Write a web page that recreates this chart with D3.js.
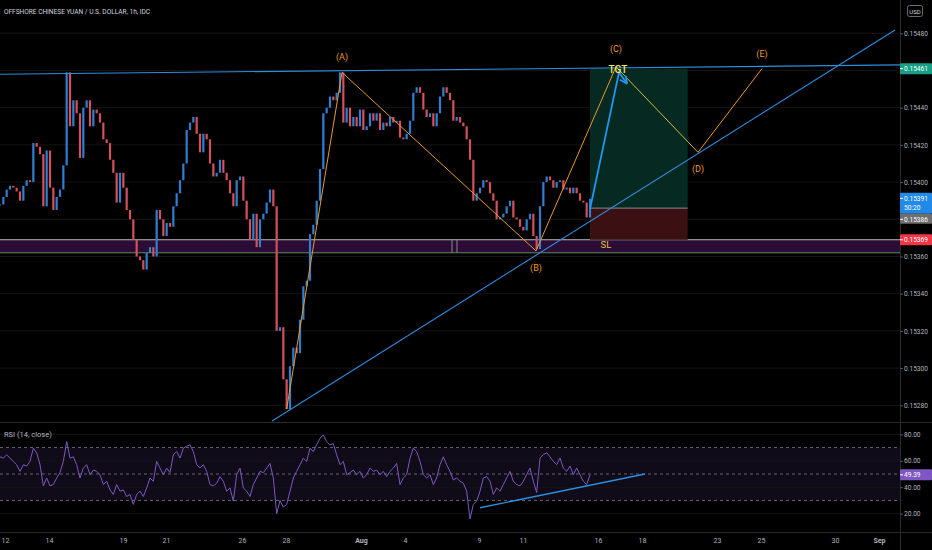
<!DOCTYPE html>
<html>
<head>
<meta charset="utf-8">
<script src="https://cdn.jsdelivr.net/npm/d3@7"></script>
<style>
  body { margin: 0; background: #000; }
  svg { display: block; }
</style>
</head>
<body>
<div id="chart"></div>
<script>
// USD/CNH 1h (one close every ~3.6 hours of trading)
var closes = [
  0.15388, 0.15392, 0.15396, 0.15398, 0.15397, 0.15395, 0.15390, 0.15398, 0.15401, 0.15400,
  0.15421, 0.15419, 0.15415, 0.15387, 0.15417, 0.15397, 0.15385, 0.15392, 0.15396, 0.15409,
  0.15459, 0.15430, 0.15444, 0.15437, 0.15413, 0.15440, 0.15444, 0.15430, 0.15439, 0.15437,
  0.15432, 0.15423, 0.15421, 0.15412, 0.15405, 0.15389, 0.15405, 0.15397, 0.15385, 0.15380,
  0.15369, 0.15360, 0.15358, 0.15353, 0.15362, 0.15365, 0.15360, 0.15385, 0.15380, 0.15371,
  0.15378, 0.15376, 0.15387, 0.15394, 0.15401, 0.15410, 0.15428, 0.15432, 0.15435, 0.15426,
  0.15416, 0.15426, 0.15423, 0.15410, 0.15403, 0.15405, 0.15412, 0.15405, 0.15401, 0.15394,
  0.15387, 0.15401, 0.15403, 0.15390, 0.15380, 0.15369, 0.15383, 0.15365, 0.15380, 0.15383,
  0.15389, 0.15396, 0.15387, 0.15320, 0.15322, 0.15294, 0.15278, 0.15301, 0.15311, 0.15308,
  0.15326, 0.15344, 0.15347, 0.15372, 0.15377, 0.15390, 0.15407, 0.15437, 0.15440, 0.15446,
  0.15444, 0.15448, 0.15459, 0.15432, 0.15440, 0.15430, 0.15435, 0.15430, 0.15439, 0.15428,
  0.15430, 0.15437, 0.15433, 0.15437, 0.15428, 0.15432, 0.15430, 0.15435, 0.15432, 0.15433,
  0.15424, 0.15423, 0.15426, 0.15433, 0.15448, 0.15451, 0.15448, 0.15439, 0.15435, 0.15437,
  0.15430, 0.15437, 0.15446, 0.15451, 0.15448, 0.15444, 0.15433, 0.15435, 0.15432, 0.15430,
  0.15423, 0.15412, 0.15390, 0.15394, 0.15397, 0.15401, 0.15400, 0.15394, 0.15390, 0.15380,
  0.15381, 0.15383, 0.15387, 0.15390, 0.15381, 0.15380, 0.15376, 0.15374, 0.15380, 0.15383,
  0.15371, 0.15364, 0.15387, 0.15400, 0.15403, 0.15401, 0.15397, 0.15400, 0.15401, 0.15396,
  0.15397, 0.15394, 0.15397, 0.15394, 0.15390, 0.15389, 0.15381, 0.15391
];
var rsi = [
  63, 62, 64.5, 62, 59.5, 57, 52, 57, 56, 59.5,
  69.5, 66, 57, 41, 47, 41, 42, 47, 51, 59.5,
  74.5, 62, 63, 57, 47, 54.5, 57, 49.5, 53, 52,
  49.5, 42, 44.5, 38, 34.5, 42, 37, 38, 33, 34.5,
  27, 34.5, 37, 33, 39.5, 47, 44.5, 59.5, 54.5, 49.5,
  54.5, 51, 64.5, 67, 62, 69.5, 71, 72, 67, 57,
  54.5, 57, 52, 42, 41, 43, 48, 44.5, 37, 39.5,
  29.5, 49.5, 54.5, 39.5, 37, 33, 42, 47, 52, 51,
  54.5, 58, 47, 20, 30, 25, 27, 37, 47, 52,
  57, 62, 59.5, 69.5, 67, 72, 77, 79.5, 74.5, 72,
  73, 64.5, 57, 59.5, 49.5, 51, 53, 49.5, 52, 47,
  49.5, 54.5, 52, 53, 49.5, 52, 48, 52, 54.5, 58,
  42, 47, 49.5, 62, 69.5, 67, 59.5, 49.5, 47, 49.5,
  42, 47, 57, 63, 57, 52, 45.5, 47, 44.5, 43,
  37, 16, 27, 29.5, 37, 47, 48, 44.5, 34.5, 39.5,
  37, 42, 47, 52, 44.5, 42, 41, 44.5, 49.5, 54.5,
  44.5, 36, 62, 64.5, 66, 63, 59.5, 57, 62, 54.5,
  52, 56, 49.5, 54.5, 49.5, 44.5, 42, 49.39
];

// time axis (positions in bar units)
var dayTicks = ["12", "14", "19", "21", "26", "28", "Aug", "4", "9", "11", "16", "18", "23", "25", "30", "Sep"];
var dayTickBars = [1.5, 14.7, 36.9, 49.8, 72.6, 85.8, 108.3, 121.5, 143.7, 156.9, 179.4, 192.6, 215.1, 228.3, 250.5, 263.7];
var priceTicks = [0.1528, 0.1530, 0.1532, 0.1534, 0.1536, 0.1538, 0.1540, 0.1542, 0.1544, 0.1546, 0.1548];
var rsiTicks = [20, 40, 60, 80];
var rsiBands = [70, 50, 30];

// drawings
var resistBars = [0, 270], resistPrices = [0.15458, 0.15463];
var supportBars = [81.6, 268.5], supportPrices = [0.152716, 0.154818];
var zoneTop = 0.15369, zoneBottom = 0.15362;
var zoneMarkBars = [135.6, 137.1];
var entryPrice = 0.15386, targetPrice = 0.15461, stopPrice = 0.15369;
var positionBars = [177, 206.3];
var lastPrice = 0.15391, countdown = "50:20";
var arrowBars = [177, 185.7, 188.1], arrowPrices = [0.153855, 0.15459, 0.15453];
var waveBars = [86, 102.6, 160.8, 184.8, 209.4, 228.6];
var wavePrices = [0.15278, 0.15459, 0.15363, 0.15462, 0.15416, 0.15461];
var waveLabels = ["(A)", "(B)", "(C)", "(D)", "(E)"];
var rsiLineBars = [144, 193.5], rsiLineVals = [24.5, 50];

var width = 932, height = 550;
var paneW = 900, mainH = 422, rsiBottom = 532;
var font = "Roboto, 'Liberation Sans', sans-serif";
var txt = "#b2b5be";

var svg = d3.select("#chart").append("svg")
  .attr("width", width).attr("height", height)
  .style("background", "#000");

var x = d3.scaleLinear().domain([0, 270]).range([0, paneW]);
var y = d3.scaleLinear().domain([0.1528, 0.1548]).range([405.3, 33.3]);
var yR = d3.scaleLinear().domain([20, 80]).range([513.7, 434.3]);

var defs = svg.append("defs");
defs.append("clipPath").attr("id", "clipMain")
  .append("rect").attr("x", 0).attr("y", 0).attr("width", paneW).attr("height", mainH);
defs.append("clipPath").attr("id", "clipRsi")
  .append("rect").attr("x", 0).attr("y", mainH).attr("width", paneW).attr("height", rsiBottom - mainH);
defs.append("marker").attr("id", "arrowHead")
  .attr("viewBox", "0 0 10 10").attr("refX", 9).attr("refY", 5)
  .attr("markerWidth", 5).attr("markerHeight", 5).attr("orient", "auto")
  .append("path").attr("d", "M1,1 L9,5 L1,9")
  .attr("fill", "none").attr("stroke", "#2196f3").attr("stroke-width", 2);

// ---------- main pane ----------
var main = svg.append("g").attr("clip-path", "url(#clipMain)");

main.selectAll("line.grid").data(priceTicks).enter().append("line")
  .attr("class", "grid")
  .attr("x1", 0).attr("x2", paneW)
  .attr("y1", function(d) { return y(d); }).attr("y2", function(d) { return y(d); })
  .attr("stroke", "#141414");

// support / resistance zone
main.append("rect")
  .attr("x", 0).attr("width", paneW)
  .attr("y", y(zoneTop)).attr("height", y(zoneBottom) - y(zoneTop))
  .attr("fill", "#2a0c34");
main.append("line")
  .attr("x1", 0).attr("x2", paneW).attr("y1", y(zoneTop)).attr("y2", y(zoneTop))
  .attr("stroke", "#bdbdbd").attr("stroke-width", 1);
main.append("line")
  .attr("x1", 0).attr("x2", paneW).attr("y1", y(zoneBottom)).attr("y2", y(zoneBottom))
  .attr("stroke", "#5f8a64").attr("stroke-width", 1);
main.selectAll("line.zmark").data(zoneMarkBars).enter().append("line")
  .attr("class", "zmark")
  .attr("x1", function(d) { return x(d); }).attr("x2", function(d) { return x(d); })
  .attr("y1", y(zoneTop)).attr("y2", y(zoneBottom))
  .attr("stroke", "#8a8a8a");

// long position tool
main.append("rect")
  .attr("x", x(positionBars[0])).attr("width", x(positionBars[1]) - x(positionBars[0]))
  .attr("y", y(targetPrice)).attr("height", y(entryPrice) - y(targetPrice))
  .attr("fill", "#062a22");
main.append("rect")
  .attr("x", x(positionBars[0])).attr("width", x(positionBars[1]) - x(positionBars[0]))
  .attr("y", y(entryPrice)).attr("height", y(stopPrice) - y(entryPrice))
  .attr("fill", "#3a1012");
main.append("line")
  .attr("x1", x(positionBars[0])).attr("x2", x(positionBars[1]))
  .attr("y1", y(entryPrice)).attr("y2", y(entryPrice))
  .attr("stroke", "#8c8c8c");

// candles
var bars = closes.map(function(c, i) {
  return { i: i, o: i ? closes[i - 1] : c, c: c };
});
main.selectAll("rect.candle").data(bars).enter().append("rect")
  .attr("class", "candle")
  .attr("x", function(d) { return x(d.i) - 1.1; })
  .attr("width", 2.2)
  .attr("y", function(d) { return y(Math.max(d.o, d.c)); })
  .attr("height", function(d) { return Math.max(1, Math.abs(y(d.o) - y(d.c))); })
  .attr("fill", function(d) { return d.c >= d.o ? "#2f7fd0" : "#d3505c"; });

// trend lines
var trend = d3.line().x(function(d) { return x(d[0]); }).y(function(d) { return y(d[1]); });
main.append("path")
  .attr("d", trend(d3.zip(resistBars, resistPrices)))
  .attr("fill", "none").attr("stroke", "#2b8fe0").attr("stroke-width", 1.1);
main.append("path")
  .attr("d", trend(d3.zip(supportBars, supportPrices)))
  .attr("fill", "none").attr("stroke", "#2b8fe0").attr("stroke-width", 1.1);

// wave count
var wavePts = d3.zip(waveBars, wavePrices);
for (var k = 0; k < wavePts.length - 1; k++) {
  main.append("path")
    .attr("d", trend([wavePts[k], wavePts[k + 1]]))
    .attr("fill", "none")
    .attr("stroke", k === 3 ? "#c9c23e" : "#e8982e")
    .attr("stroke-width", 1);
}
main.selectAll("text.wave").data(waveLabels).enter().append("text")
  .attr("class", "wave")
  .attr("x", function(d, i) { return x(waveBars[i + 1]); })
  .attr("y", function(d, i) {
    var py = y(wavePrices[i + 1]);
    return i % 2 === 0 ? py - 12 : py + 20;
  })
  .attr("text-anchor", "middle")
  .attr("font-family", font).attr("font-size", 9)
  .attr("fill", "#e8982e")
  .text(function(d) { return d; });
// (C) sits above TGT
main.selectAll("text.wave").filter(function(d) { return d === "(C)"; })
  .attr("y", y(wavePrices[3]) - 15);

// projection arrow
main.append("path")
  .attr("d", trend(d3.zip(arrowBars, arrowPrices)))
  .attr("fill", "none").attr("stroke", "#2196f3").attr("stroke-width", 1.8)
  .attr("marker-end", "url(#arrowHead)");

main.append("text")
  .attr("x", x(185.4)).attr("y", y(targetPrice) + 4)
  .attr("text-anchor", "middle")
  .attr("font-family", font).attr("font-size", 10).attr("font-weight", 500)
  .attr("fill", "#f5e84a").text("TGT");
main.append("text")
  .attr("x", x(181.8)).attr("y", y(stopPrice) + 8)
  .attr("text-anchor", "middle")
  .attr("font-family", font).attr("font-size", 9.5)
  .attr("fill", "#e6c13a").text("SL");

// ---------- RSI pane ----------
var rp = svg.append("g").attr("clip-path", "url(#clipRsi)");
rp.append("rect")
  .attr("x", 0).attr("width", paneW)
  .attr("y", yR(70)).attr("height", yR(30) - yR(70))
  .attr("fill", "rgba(126,87,194,0.12)");
rp.selectAll("line.rgrid").data(rsiTicks).enter().append("line")
  .attr("class", "rgrid")
  .attr("x1", 0).attr("x2", paneW)
  .attr("y1", function(d) { return yR(d); }).attr("y2", function(d) { return yR(d); })
  .attr("stroke", "#141414");
rp.selectAll("line.band").data(rsiBands).enter().append("line")
  .attr("class", "band")
  .attr("x1", 0).attr("x2", paneW)
  .attr("y1", function(d) { return yR(d); }).attr("y2", function(d) { return yR(d); })
  .attr("stroke", "#787b86").attr("stroke-dasharray", "3,3").attr("stroke-width", 0.8);
rp.append("path")
  .attr("d", d3.line().x(function(d, i) { return x(i); }).y(function(d) { return yR(d); })(rsi))
  .attr("fill", "none").attr("stroke", "#7e57c2").attr("stroke-width", 1);
rp.append("path")
  .attr("d", d3.line().x(function(d) { return x(d[0]); }).y(function(d) { return yR(d[1]); })(d3.zip(rsiLineBars, rsiLineVals)))
  .attr("fill", "none").attr("stroke", "#2b8fe0").attr("stroke-width", 1.3);
svg.append("text")
  .attr("x", 4).attr("y", 437)
  .attr("font-family", font).attr("font-size", 7.5).attr("fill", txt)
  .text("RSI (14, close)");

// ---------- separators ----------
svg.append("line").attr("x1", 0).attr("x2", width).attr("y1", mainH + 0.5).attr("y2", mainH + 0.5).attr("stroke", "#2a2a2a");
svg.append("line").attr("x1", 0).attr("x2", width).attr("y1", rsiBottom + 0.5).attr("y2", rsiBottom + 0.5).attr("stroke", "#2a2a2a");
svg.append("line").attr("x1", paneW + 0.5).attr("x2", paneW + 0.5).attr("y1", 0).attr("y2", height).attr("stroke", "#2a2a2a");

// ---------- axes ----------
var labelYs = [y(targetPrice), y(lastPrice) + 4, 218.5, y(stopPrice)];
var shownTicks = priceTicks.filter(function(t) {
  return labelYs.every(function(ly) { return Math.abs(y(t) - ly) > 10; });
});
var pAxis = svg.append("g").attr("transform", "translate(" + paneW + ",0)")
  .call(d3.axisRight(y).tickValues(shownTicks).tickFormat(d3.format(".5f")).tickSize(3).tickPadding(1));
pAxis.select(".domain").remove();
pAxis.selectAll("line").attr("stroke", "#555");
pAxis.selectAll("text").attr("fill", txt).attr("font-family", font).attr("font-size", 6.6);

var rAxis = svg.append("g").attr("transform", "translate(" + paneW + ",0)")
  .call(d3.axisRight(yR).tickValues(rsiTicks).tickFormat(d3.format(".2f")).tickSize(3).tickPadding(1));
rAxis.select(".domain").remove();
rAxis.selectAll("line").attr("stroke", "#555");
rAxis.selectAll("text").attr("fill", txt).attr("font-family", font).attr("font-size", 6.6);

var tAxis = svg.append("g").attr("transform", "translate(0," + rsiBottom + ")")
  .call(d3.axisBottom(x).tickValues(dayTickBars).tickFormat(function(d, i) { return dayTicks[i]; }).tickSize(0).tickPadding(6));
tAxis.select(".domain").remove();
tAxis.selectAll("text")
  .attr("fill", txt).attr("font-family", font).attr("font-size", 7)
  .attr("font-weight", function(d, i) { return isNaN(+dayTicks[i]) ? 700 : 400; });

// price labels on the axis
function priceLabel(cy, h, fill, lines, color) {
  svg.append("rect").attr("x", paneW).attr("y", cy - h / 2).attr("width", 32).attr("height", h)
    .attr("fill", fill).attr("rx", 1);
  svg.append("line").attr("x1", paneW).attr("x2", paneW + 3).attr("y1", cy - h / 2 + 5.5).attr("y2", cy - h / 2 + 5.5)
    .attr("stroke", color);
  lines.forEach(function(s, j) {
    svg.append("text").attr("x", paneW + 4).attr("y", cy - h / 2 + 8 + j * 9.5)
      .attr("font-family", font).attr("font-size", 6.6).attr("fill", color).text(s);
  });
}
priceLabel(y(targetPrice), 11, "#16a085", [d3.format(".5f")(targetPrice)], "#fff");
priceLabel(y(lastPrice) + 4.5, 21, "#2189e8", [d3.format(".5f")(lastPrice), countdown], "#fff");
priceLabel(218.8, 10, "#6e6e6e", [d3.format(".5f")(entryPrice)], "#fff");
priceLabel(y(stopPrice), 11, "#f23645", [d3.format(".5f")(stopPrice)], "#fff");
priceLabel(yR(rsi[rsi.length - 1]), 11, "#7e57c2", [d3.format(".2f")(rsi[rsi.length - 1])], "#fff");

// title and currency badge
svg.append("text")
  .attr("x", 4).attr("y", 14)
  .attr("font-family", font).attr("font-size", 8).attr("fill", "#d1d4dc")
  .attr("textLength", 146).attr("lengthAdjust", "spacingAndGlyphs")
  .text("OFFSHORE CHINESE YUAN / U.S. DOLLAR, 1h, IDC");
svg.append("rect").attr("x", 907.5).attr("y", 5.5).attr("width", 15).attr("height", 11)
  .attr("rx", 2).attr("fill", "none").attr("stroke", "#6a6a6a");
svg.append("text").attr("x", 915).attr("y", 13.5).attr("text-anchor", "middle")
  .attr("font-family", font).attr("font-size", 6).attr("fill", "#d1d4dc").text("USD");
</script>
</body>
</html>
